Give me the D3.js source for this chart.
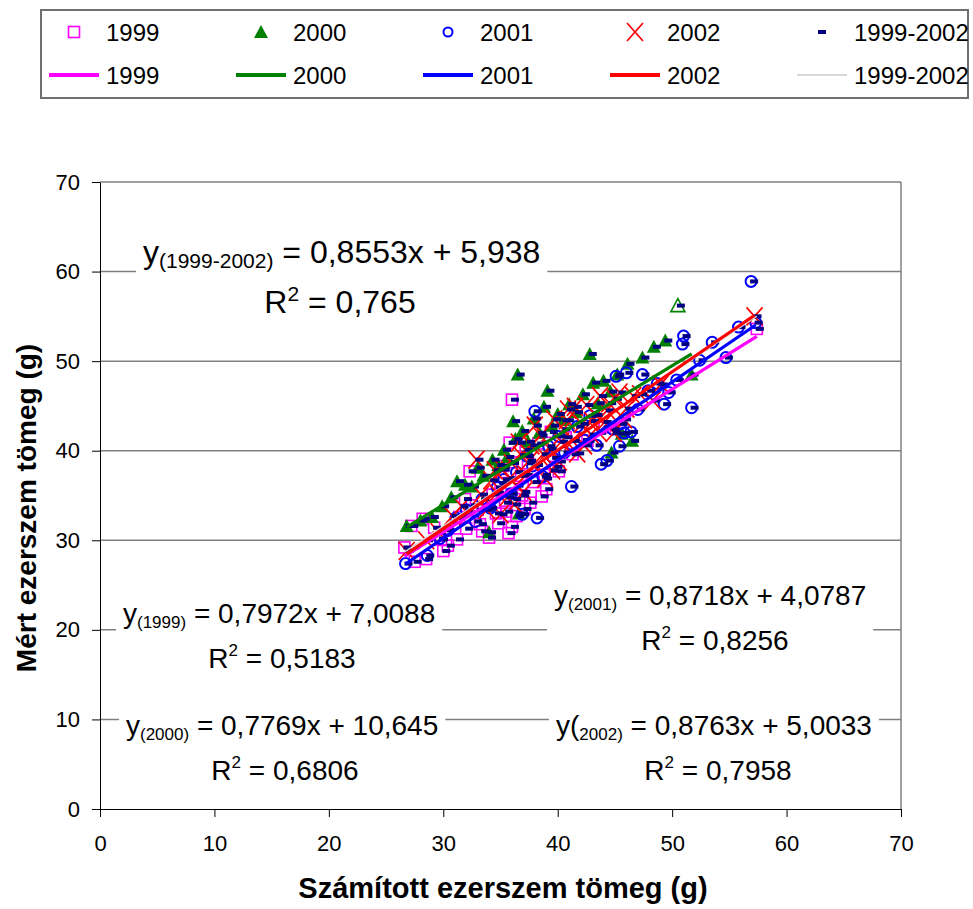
<!DOCTYPE html>
<html>
<head>
<meta charset='utf-8'>
<script src='https://d3js.org/d3.v7.min.js'></script>
<style>
body { margin: 0; background: #fff; }
text { font-family: 'Liberation Sans', Arial, sans-serif; }
</style>
</head>
<body>
<div id='chart'></div>
<script>
// ---- data ----
const years = ['1999', '2000', '2001', '2002', '1999-2002'];
const colors = ['#ff00ff', '#008000', '#0000ff', '#ff0000', '#d9d9d9'];
const slopes = [0.7972, 0.7769, 0.8718, 0.8763, 0.8553];
const intercepts = [7.0088, 10.645, 4.0787, 5.0033, 5.938];
const r2 = [0.5183, 0.6806, 0.8256, 0.7958, 0.765];
const axisTicks = [0, 10, 20, 30, 40, 50, 60, 70];

const pts1999 = [[26.6,29.2],[27.2,31.6],[28.2,32.4],[27.5,27.6],[28.5,27.9],[29.2,31.4],[29.8,30.1],[30.0,28.8],
  [30.4,29.4],[31.2,30.1],[31.4,32.6],[31.9,34.6],[32.0,31.3],[32.3,37.7],[32.5,33.9],[33.0,33.4],[33.2,31.8],
  [33.4,31.0],[34.0,30.3],[34.3,35.1],[34.6,33.0],[34.8,31.9],[35.0,36.4],[35.2,38.3],[35.4,34.2],[35.5,33.2],
  [35.7,30.8],[35.8,40.9],[36.0,45.7],[36.0,31.5],[36.0,38.7],[36.2,34.6],[36.4,32.7],[36.8,37.2],[36.9,35.0],
  [37.1,33.5],[37.2,40.1],[37.4,38.6],[37.6,34.2],[37.9,36.5],[38.3,40.8],[38.6,34.9],[38.8,37.3],[39.0,35.7],
  [39.4,42.1],[39.8,38.2],[40.1,37.7],[40.7,41.5],[41.3,39.6],[42.6,41.1],[44.1,42.6],[57.4,53.6]];
const pts2000 = [[26.8,31.6],[28.0,32.2],[29.0,32.6],[29.9,33.8],[30.7,34.8],[31.2,36.6],[31.9,36.2],[32.5,36.0],
  [33.0,38.1],[33.5,37.2],[34.0,30.9],[34.3,39.0],[34.8,38.4],[35.3,40.1],[35.6,39.3],[36.1,43.3],[36.3,41.3],
  [36.5,48.5],[36.6,33.0],[36.9,42.2],[37.4,41.0],[37.9,43.6],[38.4,42.0],[38.8,44.9],[39.1,46.7],[39.5,42.8],
  [40.0,44.1],[40.5,43.4],[41.0,45.2],[41.6,44.3],[42.2,46.3],[42.8,50.8],[43.1,47.6],[43.5,45.3],[44.0,47.8],
  [44.6,46.6],[44.7,39.8],[45.2,48.5],[45.6,41.9],[46.1,49.7],[46.5,41.1],[47.4,50.4],[48.4,51.6],[49.4,52.3],
  [51.7,48.5]];
const open2000 = [[50.5,56.2]];
const pts2001 = [[26.7,27.4],[28.6,28.3],[29.7,30.2],[30.4,31.1],[31.1,32.5],[32.0,33.4],[32.8,32.1],[33.4,34.6],
  [34.1,33.6],[34.7,35.9],[35.3,36.8],[35.9,35.2],[36.4,37.6],[36.9,32.9],[37.3,39.4],[37.8,38.3],[38.0,44.4],
  [38.2,32.5],[38.7,37.1],[39.2,40.5],[39.6,39.2],[40.1,41.6],[40.6,39.8],[41.2,36.0],[41.7,42.7],[42.3,41.2],
  [42.8,43.9],[43.4,40.6],[43.8,38.5],[44.3,38.9],[44.8,42.4],[45.1,48.3],[45.4,40.5],[45.5,43.0],[45.8,42.0],
  [46.0,48.7],[46.4,42.1],[47.0,44.6],[47.4,48.5],[47.9,46.7],[48.7,47.5],[49.3,45.2],[49.7,46.5],[50.4,47.9],
  [50.9,51.9],[51.0,52.8],[51.7,44.8],[52.4,50.1],[53.5,52.1],[54.7,50.4],[55.8,53.8],[56.9,58.9],[57.3,54.3]];
const pts2002 = [[26.8,28.8],[28.5,30.0],[29.6,30.9],[30.8,32.7],[31.6,33.8],[32.9,39.0],[33.3,35.1],[33.8,33.4],
  [34.2,36.7],[34.5,37.8],[34.7,35.3],[35.0,32.9],[35.2,37.9],[35.6,34.8],[35.8,36.9],[36.0,38.6],[36.2,34.0],
  [36.4,36.1],[36.6,40.9],[36.8,39.5],[37.0,35.4],[37.2,37.3],[37.5,38.9],[37.7,40.6],[38.0,42.8],[38.1,38.4],
  [38.5,41.7],[38.7,39.6],[38.9,36.9],[39.3,40.2],[39.5,37.8],[39.7,43.5],[40.1,38.8],[40.3,41.0],[40.5,42.4],
  [40.8,43.4],[40.9,44.6],[41.3,41.1],[41.5,44.9],[41.7,39.7],[42.1,43.0],[42.3,40.6],[42.5,45.1],[42.9,41.8],
  [43.0,43.3],[43.3,44.0],[43.6,42.0],[43.7,46.1],[44.1,43.2],[44.3,44.5],[44.5,45.3],[44.9,42.0],[45.0,45.8],
  [45.4,46.5],[45.8,43.5],[46.0,44.7],[46.6,46.1],[47.2,46.3],[48.3,45.6],[49.0,47.4],[57.2,55.0]];

const filled2000 = pts2000;
const all2000 = pts2000.concat(open2000);
const yearPts = [pts1999, filled2000, pts2001, pts2002];
const allPts = [].concat(pts1999, all2000, pts2001, pts2002);
const seriesPts = [pts1999, all2000, pts2001, pts2002, allPts];

// equation heads: main letter and subscript part
const eqHead = [['y', '(1999)'], ['y', '(2000)'], ['y', '(2001)'], ['y(', '2002)'], ['y', '(1999-2002)']];

// ---- layout ----
const W = 973, H = 909;
const plot = { left: 100, right: 901, top: 182, bottom: 809 };
const font = "'Liberation Sans', Arial, sans-serif";

const svg = d3.select('#chart').append('svg').attr('width', W).attr('height', H);

const x = d3.scaleLinear().domain([0, 70]).range([plot.left, plot.right]);
const y = d3.scaleLinear().domain([0, 70]).range([plot.bottom, plot.top]);

// gridlines + border
svg.append('g').selectAll('line').data(axisTicks.slice(1)).join('line')
  .attr('x1', plot.left).attr('x2', plot.right)
  .attr('y1', d => y(d)).attr('y2', d => y(d))
  .attr('stroke', '#808080').attr('stroke-width', 1.5);
svg.append('line')
  .attr('x1', plot.right).attr('x2', plot.right).attr('y1', plot.top).attr('y2', plot.bottom)
  .attr('stroke', '#808080').attr('stroke-width', 1.5);

// axes
svg.append('g').attr('transform', `translate(${plot.left},0)`)
  .call(d3.axisLeft(y).tickValues(axisTicks).tickSize(8).tickPadding(12).tickSizeOuter(0))
  .attr('font-size', 22).attr('font-family', font)
  .call(g => g.selectAll('line, path').attr('stroke', '#000'));
svg.append('g').attr('transform', `translate(0,${plot.bottom})`)
  .call(d3.axisBottom(x).tickValues(axisTicks).tickSize(8).tickPadding(18).tickSizeOuter(0))
  .attr('font-size', 22).attr('font-family', font)
  .call(g => g.selectAll('line, path').attr('stroke', '#000'));

// axis titles
svg.append('text').attr('x', 503).attr('y', 898).attr('text-anchor', 'middle')
  .attr('font-size', 29).attr('font-weight', 'bold').text('Számított ezerszem tömeg (g)');
svg.append('text').attr('transform', 'translate(36,508) rotate(-90)').attr('text-anchor', 'middle')
  .attr('font-size', 28).attr('font-weight', 'bold').text('Mért ezerszem tömeg (g)');

// markers
function drawMarker(g, k, px, py, legend) {
  if (k === 0) {
    g.append('rect').attr('x', px - 5.5).attr('y', py - 5.5).attr('width', 11).attr('height', 11)
      .attr('fill', 'none').attr('stroke', colors[0]).attr('stroke-width', 1.6);
  } else if (k === 1) {
    g.append('path').attr('d', `M${px},${py - 7}L${px + 7},${py + 6}L${px - 7},${py + 6}Z`)
      .attr('fill', colors[1]);
  } else if (k === 2) {
    g.append('circle').attr('cx', px).attr('cy', py).attr('r', legend ? 4.5 : 5.5)
      .attr('fill', 'none').attr('stroke', colors[2]).attr('stroke-width', 2);
  } else if (k === 3) {
    g.append('path').attr('d', `M${px - 8},${py - 9}L${px + 8},${py + 9}M${px + 8},${py - 9}L${px - 8},${py + 9}`)
      .attr('stroke', colors[3]).attr('stroke-width', 1.7).attr('fill', 'none');
  } else {
    g.append('rect').attr('x', px - 4).attr('y', py - 2).attr('width', 8).attr('height', 4).attr('fill', '#000080');
  }
}

const pointsG = svg.append('g');
yearPts.forEach((pts, k) => {
  pts.forEach(d => drawMarker(pointsG, k, x(d[0]), y(d[1]), false));
});
open2000.forEach(d => {
  const px = x(d[0]), py = y(d[1]);
  pointsG.append('path').attr('d', `M${px},${py - 7}L${px + 7},${py + 6}L${px - 7},${py + 6}Z`)
    .attr('fill', '#fff').attr('stroke', colors[1]).attr('stroke-width', 1.6);
});
allPts.forEach(d => drawMarker(pointsG, 4, x(d[0]) + 3, y(d[1]), false));

// trendlines over each series' x-range (combined line first, under the others)
[4, 0, 1, 2, 3].forEach(k => {
  const ext = d3.extent(seriesPts[k], d => d[0]);
  const line = d3.line().x(d => x(d)).y(d => y(slopes[k] * d + intercepts[k]));
  svg.append('path').attr('d', line(ext)).attr('fill', 'none')
    .attr('stroke', colors[k]).attr('stroke-width', k === 4 ? 1.5 : 3.2);
});

// equation labels (white boxes cover the gridlines)
const labelPos = [
  { x: 123, y: 623, rx: 282, ry: 668, fs: 28, sub: 17 },
  { x: 126, y: 735, rx: 285, ry: 780, fs: 28, sub: 17 },
  { x: 554, y: 605, rx: 715, ry: 650, fs: 28, sub: 17 },
  { x: 556, y: 735, rx: 718, ry: 780, fs: 28, sub: 17 },
  { x: 143, y: 263, rx: 340, ry: 313, fs: 32, sub: 21 }
];
const fmt = v => String(v).replace('.', ',');
const labels = svg.append('g');
labelPos.forEach((p, i) => {
  const g = labels.append('g');
  const box = g.append('rect').attr('fill', '#fff');
  const t1 = g.append('text').attr('x', p.x).attr('y', p.y).attr('font-size', p.fs);
  t1.append('tspan').text(eqHead[i][0]);
  t1.append('tspan').attr('font-size', p.sub).attr('dy', 5).text(eqHead[i][1]);
  t1.append('tspan').attr('dy', -5).text(` = ${fmt(slopes[i])}x + ${fmt(intercepts[i])}`);
  const t2 = g.append('text').attr('x', p.rx).attr('y', p.ry).attr('font-size', p.fs).attr('text-anchor', 'middle');
  t2.append('tspan').text('R');
  t2.append('tspan').attr('font-size', p.sub).attr('dy', -12).text('2');
  t2.append('tspan').attr('dy', 12).text(` = ${fmt(r2[i])}`);
  const bb = g.node().getBBox();
  box.attr('x', bb.x - 7).attr('y', bb.y - 2).attr('width', bb.width + 14).attr('height', bb.height + 4);
});

// legend
const lg = svg.append('g');
lg.append('rect').attr('x', 41).attr('y', 10).attr('width', 927).attr('height', 88)
  .attr('fill', '#fff').attr('stroke', '#707070').attr('stroke-width', 2);
years.forEach((name, i) => {
  const x0 = 49 + 187 * i;
  drawMarker(lg, i, x0 + 25, 32, true);
  lg.append('text').attr('x', x0 + 57).attr('y', 40.5).attr('font-size', 24).text(name);
  lg.append('line').attr('x1', x0).attr('x2', x0 + 50).attr('y1', 75).attr('y2', 75)
    .attr('stroke', colors[i]).attr('stroke-width', i === 4 ? 2 : 4);
  lg.append('text').attr('x', x0 + 57).attr('y', 83.5).attr('font-size', 24).text(name);
});
</script>
</body>
</html>
